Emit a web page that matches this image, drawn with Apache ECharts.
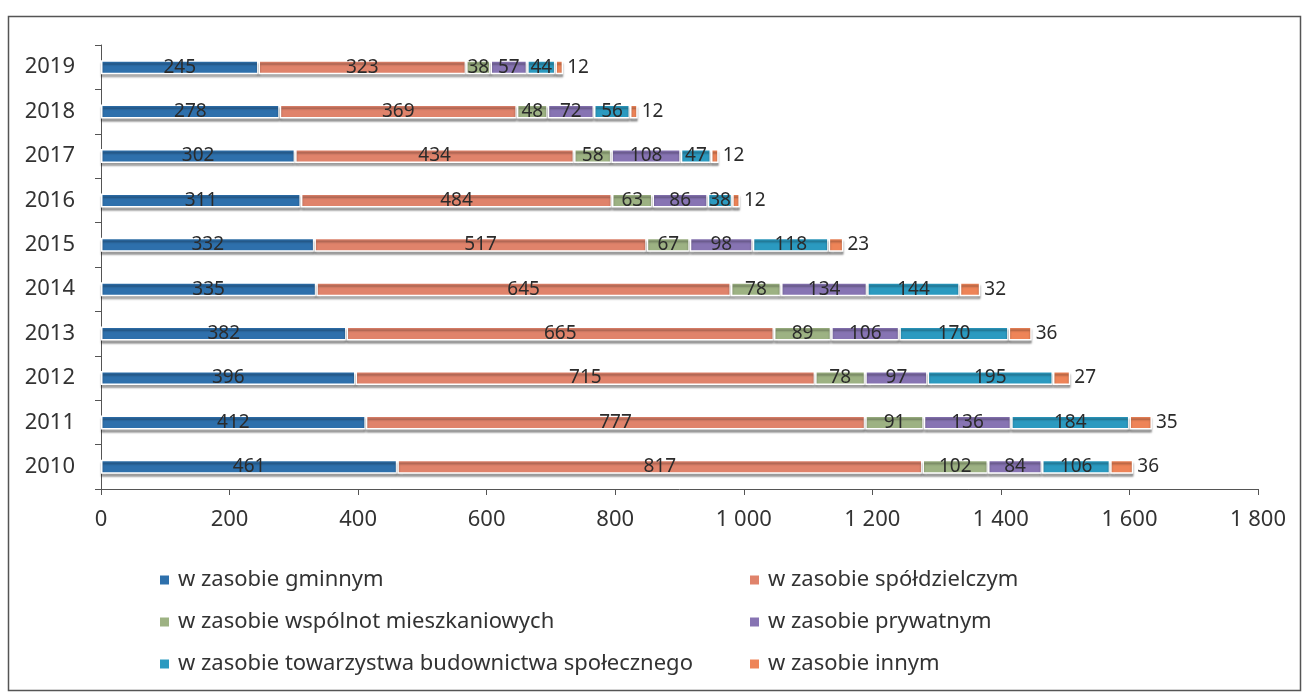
<!DOCTYPE html>
<html>
<head>
<meta charset="utf-8">
<script src="https://cdn.jsdelivr.net/npm/echarts@6/dist/echarts.min.js"></script>
<style>
html,body{margin:0;padding:0;background:#fff;}
#c{width:1304px;height:694px;}
</style>
</head>
<body>
<div id="c"></div>
<script>
const years = ['2010','2011','2012','2013','2014','2015','2016','2017','2018','2019'];
const seriesNames = [
  'w zasobie gminnym',
  'w zasobie spółdzielczym',
  'w zasobie wspólnot mieszkaniowych',
  'w zasobie prywatnym',
  'w zasobie towarzystwa budownictwa społecznego',
  'w zasobie innym'
];
const gminnym      = [461, 412, 396, 382, 335, 332, 311, 302, 278, 245];
const spoldzielczym= [817, 777, 715, 665, 645, 517, 484, 434, 369, 323];
const wspolnot     = [102, 91, 78, 89, 78, 67, 63, 58, 48, 38];
const prywatnym    = [84, 136, 97, 106, 134, 98, 86, 108, 72, 57];
const tbs          = [106, 184, 195, 170, 144, 118, 38, 47, 56, 44];
const innym        = [36, 35, 27, 36, 32, 23, 12, 12, 12, 12];
const xTicks = [0, 200, 400, 600, 800, 1000, 1200, 1400, 1600, 1800];

const colors = ['#2E70AC', '#E0836B', '#9DB283', '#8774B3', '#2B9AC0', '#EE8458'];
const values = [gminnym, spoldzielczym, wspolnot, prywatnym, tbs, innym];
const FONT = 'Noto Sans';

const chart = echarts.init(document.getElementById('c'));
const series = values.map((v, i) => ({
  name: seriesNames[i],
  type: 'bar',
  stack: 'total',
  data: v,
  barWidth: 14,
  itemStyle: {
    color: colors[i], borderColor: '#fff', borderWidth: 1.5,
    shadowColor: 'rgba(0,0,0,0.35)', shadowBlur: 2, shadowOffsetY: 3
  },
  label: {
    show: true,
    position: i === 5 ? 'right' : 'inside',
    color: '#2b2b2b',
    fontFamily: FONT,
    fontSize: 19,
    distance: 4
  }
}));

const legendText = {fontSize: 22, color: '#333', fontFamily: FONT, padding: [0, 0, 0, 3]};

chart.setOption({
  animation: false,
  backgroundColor: '#fff',
  textStyle: {fontFamily: FONT},
  grid: {left: 101, right: 46, top: 45, bottom: 205, containLabel: false},
  xAxis: {
    type: 'value',
    min: 0, max: 1800, interval: 200,
    axisLine: {show: true, lineStyle: {color: '#555'}},
    axisTick: {show: true, length: 6, lineStyle: {color: '#555'}},
    splitLine: {show: false},
    axisLabel: {
      color: '#333', fontSize: 22, fontFamily: FONT, margin: 20,
      formatter: v => xTicks.includes(v) ? (v >= 1000 ? Math.floor(v/1000) + '\u00a0' + String(v%1000).padStart(3,'0') : String(v)) : ''
    }
  },
  yAxis: {
    type: 'category',
    data: years,
    axisLine: {show: true, lineStyle: {color: '#555'}},
    axisTick: {show: true, length: 6, lineStyle: {color: '#555'}},
    axisLabel: {color: '#333', fontSize: 22, fontFamily: FONT, margin: 26}
  },
  legend: [
    {data: [seriesNames[0], seriesNames[2], seriesNames[4]], orient: 'vertical', left: 153, top: 564, itemGap: 20, itemWidth: 11, itemHeight: 11, icon: 'rect', textStyle: legendText},
    {data: [seriesNames[1], seriesNames[3], seriesNames[5]], orient: 'vertical', left: 743, top: 564, itemGap: 20, itemWidth: 11, itemHeight: 11, icon: 'rect', textStyle: legendText}
  ],
  graphic: [{
    type: 'rect', left: 6, top: 14, silent: true, z: -1,
    shape: {width: 1292, height: 674},
    style: {fill: 'none', stroke: '#555', lineWidth: 1.5}
  }],
  series: series
});
</script>
</body>
</html>
